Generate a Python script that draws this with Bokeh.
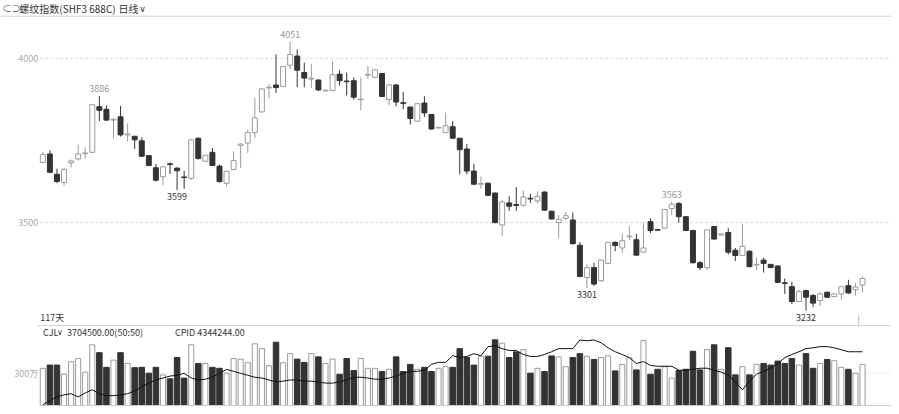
from bokeh.plotting import figure
from bokeh.models import Range1d, Label
from bokeh.embed import file_html
from bokeh.resources import INLINE

# ---------------- data ----------------
opens = [3683, 3709, 3647, 3622, 3682, 3694, 3710, 3714, 3853, 3845,
         3812, 3822, 3767, 3763, 3749, 3704, 3667, 3640, 3679, 3666,
         3639, 3635, 3757, 3687, 3714, 3672, 3620, 3662, 3735, 3742,
         3774, 3837, 3910, 3919, 3914, 3979, 4007, 3957, 3937, 3934,
         3901, 3902, 3952, 3931, 3932, 3874, 3949, 3942, 3954, 3875,
         3919, 3865, 3852, 3809, 3864, 3829, 3788, 3774, 3792, 3757,
         3724, 3657, 3617, 3620, 3590, 3493, 3560, 3555, 3553, 3574,
         3566, 3593, 3535, 3500, 3513, 3508, 3431, 3333, 3363, 3323,
         3376, 3440, 3423, 3457, 3448, 3410, 3503, 3479, 3483, 3543,
         3558, 3518, 3476, 3378, 3363, 3488, 3462, 3470, 3416, 3400,
         3413, 3371, 3386, 3373, 3368, 3317, 3305, 3260, 3293, 3278,
         3263, 3288, 3275, 3283, 3308, 3296, 3310]
highs = [3715, 3720, 3664, 3667, 3692, 3737, 3729, 3859, 3885, 3857,
         3819, 3855, 3802, 3763, 3759, 3704, 3679, 3672, 3683, 3668,
         3658, 3755, 3759, 3706, 3727, 3677, 3658, 3717, 3742, 3782,
         3879, 3908, 3922, 4012, 3976, 4051, 4027, 3987, 3983, 3936,
         3904, 3990, 3964, 3957, 3942, 3942, 3977, 3966, 3955, 3922,
         3922, 3897, 3852, 3864, 3885, 3829, 3791, 3835, 3809, 3757,
         3739, 3679, 3640, 3622, 3592, 3568, 3580, 3608, 3598, 3588,
         3595, 3595, 3536, 3523, 3533, 3531, 3441, 3373, 3378, 3388,
         3442, 3443, 3466, 3490, 3466, 3500, 3513, 3480, 3541, 3563,
         3563, 3520, 3478, 3383, 3480, 3490, 3468, 3483, 3423, 3496,
         3415, 3393, 3393, 3373, 3370, 3330, 3320, 3296, 3296, 3283,
         3288, 3290, 3285, 3308, 3326, 3316, 3336]
lows = [3680, 3652, 3620, 3612, 3668, 3689, 3695, 3712, 3809, 3810,
        3757, 3762, 3747, 3724, 3700, 3672, 3625, 3613, 3648, 3599,
        3603, 3630, 3692, 3686, 3672, 3622, 3610, 3659, 3667, 3712,
        3757, 3835, 3877, 3895, 3913, 3967, 3913, 3912, 3910, 3900,
        3899, 3900, 3917, 3887, 3874, 3842, 3937, 3940, 3882, 3857,
        3854, 3845, 3799, 3807, 3822, 3783, 3787, 3773, 3755, 3647,
        3647, 3615, 3604, 3581, 3498, 3460, 3536, 3536, 3548, 3560,
        3558, 3536, 3510, 3453, 3508, 3433, 3334, 3301, 3308, 3320,
        3374, 3413, 3408, 3446, 3400, 3408, 3468, 3476, 3482, 3523,
        3500, 3474, 3375, 3355, 3356, 3448, 3460, 3403, 3383, 3398,
        3364, 3355, 3348, 3362, 3316, 3283, 3252, 3258, 3232, 3243,
        3246, 3271, 3273, 3266, 3283, 3278, 3288]
closes = [3707, 3653, 3625, 3662, 3688, 3709, 3712, 3859, 3842, 3812,
          3814, 3767, 3770, 3752, 3702, 3674, 3629, 3670, 3677, 3658,
          3637, 3752, 3695, 3705, 3674, 3625, 3656, 3689, 3739, 3774,
          3819, 3907, 3912, 3911, 3975, 4012, 3964, 3940, 3940, 3904,
          3903, 3950, 3932, 3929, 3882, 3876, 3951, 3965, 3884, 3919,
          3867, 3863, 3817, 3862, 3834, 3785, 3790, 3795, 3757, 3722,
          3657, 3617, 3619, 3583, 3500, 3563, 3550, 3552, 3578, 3572,
          3580, 3538, 3511, 3510, 3521, 3436, 3336, 3363, 3313, 3386,
          3440, 3430, 3445, 3459, 3401, 3423, 3476, 3477, 3540, 3556,
          3518, 3476, 3378, 3363, 3478, 3450, 3466, 3410, 3400, 3428,
          3366, 3373, 3376, 3363, 3318, 3315, 3260, 3290, 3273, 3255,
          3283, 3273, 3283, 3305, 3286, 3304, 3330]
# volume, unit: 万
volumes = [345, 375, 375, 290, 406, 436, 309, 563, 490, 354,
           421, 490, 390, 351, 354, 300, 354, 284, 248, 445,
           254, 563, 390, 390, 354, 345, 300, 436, 430, 397,
           572, 527, 369, 587, 397, 481, 430, 400, 481, 451,
           390, 430, 290, 436, 324, 436, 345, 345, 315, 336,
           451, 315, 381, 336, 354, 315, 345, 360, 354, 527,
           445, 375, 457, 457, 609, 578, 445, 497, 518, 300,
           345, 315, 460, 451, 360, 445, 481, 457, 427, 445,
           460, 321, 381, 442, 330, 603, 290, 336, 360, 254,
           324, 336, 503, 330, 518, 563, 336, 536, 284, 360,
           284, 381, 390, 375, 412, 390, 436, 375, 481, 345,
           390, 427, 415, 354, 336, 300, 381]
# open interest (CPID), unit: 万
cpid = [299, 309, 319, 324, 327, 319, 329, 337, 327, 322,
        322, 324, 327, 334, 344, 354, 362, 367, 372, 374,
        379, 367, 362, 364, 369, 379, 389, 384, 379, 374,
        369, 367, 362, 357, 359, 362, 362, 359, 359, 357,
        354, 354, 357, 362, 369, 369, 367, 364, 364, 367,
        372, 379, 384, 384, 387, 402, 407, 407, 424, 419,
        422, 429, 424, 447, 449, 442, 437, 437, 427, 422,
        422, 427, 434, 442, 442, 442, 464, 462, 464, 457,
        444, 434, 427, 419, 404, 409, 399, 397, 397, 397,
        387, 387, 389, 392, 392, 387, 382, 374, 357, 337,
        359, 377, 384, 392, 404, 419, 427, 434, 442, 444,
        447, 447, 444, 439, 434, 434, 434]

price_ticks = [4000, 3500]
price_tick_labels = ["4000", "3500"]
vol_ticks = [300]
vol_tick_labels = ["300万"]
high_marks = [(35, "4051"), (8, "3886"), (89, "3563")]
low_marks = [(19, "3599"), (77, "3301"), (108, "3232")]

title_text = "螺纹指数(SHF3 688C)"
period_text = "日线"
days_text = "117天"
cjl_name = "CJL"
cjl_text = "3704500.00(50:50)"
cpid_text = "CPID 4344244.00"

# ---------------- geometry helpers (reference pixel -> data) ----------------
W, H = 891, 406
n = len(opens)
idx = list(range(n))


def dx(xr):
    return (xr - 42.7) / 7.13


def py(yr):
    return 4000 - (yr - 59) * 2.985


X0 = dx(0)
X1 = dx(899)

UP = "#9a9a9a"
DOWN = "#333333"
FONT = "Noto Sans CJK SC"

p = figure(width=W, height=H, x_range=Range1d(X0, X1),
           y_range=Range1d(py(414), py(0)),
           output_backend="svg", toolbar_location=None, min_border=0,
           x_axis_location=None, y_axis_location=None,
           outline_line_color=None, background_fill_color="white",
           border_fill_color="white")
p.grid.visible = False
p.xgrid.visible = False
p.ygrid.visible = False
p.extra_y_ranges = {
    "vol": Range1d((413 - 414) * 300 / 33, (413 - 0) * 300 / 33),
    "oi": Range1d(434.4 - 56 * 2.5, 434.4 + 358 * 2.5),
}

# header
p.segment(x0=[X0], x1=[X1], y0=[py(16)], y1=[py(16)], line_color="#d0d0d0", line_width=1)
p.add_layout(Label(x=dx(2), y=py(8.5), text="⊂⊃", text_font=FONT, text_font_size="9px",
                   text_color="#555555", text_baseline="middle"))
p.add_layout(Label(x=dx(19), y=py(8.5), text=title_text, text_font=FONT, text_font_size="10px",
                   text_color="#333333", text_baseline="middle"))
p.add_layout(Label(x=dx(119), y=py(8.5), text=period_text, text_font=FONT, text_font_size="10px",
                   text_color="#333333", text_baseline="middle"))
p.add_layout(Label(x=dx(140), y=py(8.5), text="∨", text_font="DejaVu Sans", text_font_size="9px",
                   text_color="#333333", text_baseline="middle"))

# price grid + labels
for t, lab in zip(price_ticks, price_tick_labels):
    p.segment(x0=[dx(40)], x1=[X1], y0=[t], y1=[t], line_color="#dcdcdc",
              line_width=1, line_dash="3 2")
    p.add_layout(Label(x=dx(38), y=t, text=lab, text_font=FONT, text_font_size="9px",
                       text_color="#aaaaaa", text_align="right", text_baseline="middle"))

# candles
up_i = [i for i in idx if closes[i] >= opens[i]]
dn_i = [i for i in idx if closes[i] < opens[i]]

p.segment(x0=up_i, x1=up_i, y0=[lows[i] for i in up_i], y1=[highs[i] for i in up_i],
          line_color=UP, line_width=1)
p.segment(x0=dn_i, x1=dn_i, y0=[lows[i] for i in dn_i], y1=[highs[i] for i in dn_i],
          line_color=DOWN, line_width=1)
p.vbar(x=up_i, width=0.7, bottom=[opens[i] for i in up_i],
       top=[max(closes[i], opens[i] + 1.5) for i in up_i],
       fill_color="white", line_color=UP, line_width=1)
p.vbar(x=dn_i, width=0.7, bottom=[closes[i] for i in dn_i],
       top=[max(opens[i], closes[i] + 1.5) for i in dn_i],
       fill_color=DOWN, line_color=DOWN, line_width=1)

# high / low marks
for i, lab in high_marks:
    p.add_layout(Label(x=i, y=highs[i], y_offset=4, text=lab, text_font=FONT,
                       text_font_size="9px", text_color="#999999", text_align="center",
                       text_baseline="bottom"))
for i, lab in low_marks:
    p.add_layout(Label(x=i, y=lows[i], y_offset=-3, text=lab, text_font=FONT,
                       text_font_size="9px", text_color="#333333", text_align="center",
                       text_baseline="top"))

# footer of price panel
p.add_layout(Label(x=dx(40), y=py(323), text=days_text, text_font=FONT, text_font_size="9px",
                   text_color="#333333", text_baseline="middle"))
p.segment(x0=[dx(866)], x1=[dx(866)], y0=[py(321)], y1=[py(332)], line_color="#bbbbbb", line_width=1)
p.segment(x0=[dx(38)], x1=[X1], y0=[py(331.5)], y1=[py(331.5)], line_color="#d0d0d0", line_width=1)

# volume panel header
p.add_layout(Label(x=dx(43), y=py(338.5), text=cjl_name, text_font=FONT, text_font_size="9px",
                   text_color="#333333", text_baseline="middle"))
p.add_layout(Label(x=dx(57), y=py(338.5), text="∨", text_font="DejaVu Sans", text_font_size="8px",
                   text_color="#333333", text_baseline="middle"))
p.add_layout(Label(x=dx(67), y=py(338.5), text=cjl_text, text_font=FONT, text_font_size="9px",
                   text_color="#333333", text_baseline="middle"))
p.add_layout(Label(x=dx(176), y=py(338.5), text=cpid_text, text_font=FONT, text_font_size="9px",
                   text_color="#333333", text_baseline="middle"))

# volume grid + label
for t, lab in zip(vol_ticks, vol_tick_labels):
    p.segment(x0=[dx(40)], x1=[X1], y0=[t], y1=[t], line_color="#eeeeee",
              line_width=1, y_range_name="vol")
    p.add_layout(Label(x=dx(38), y=t, y_range_name="vol", text=lab, text_font=FONT,
                       text_font_size="9px", text_color="#aaaaaa", text_align="right",
                       text_baseline="middle"))

# volume bars
p.vbar(x=up_i, width=0.72, bottom=0, top=[volumes[i] for i in up_i],
       fill_color="white", line_color=UP, line_width=1, y_range_name="vol")
p.vbar(x=dn_i, width=0.78, bottom=0, top=[volumes[i] for i in dn_i],
       fill_color=DOWN, line_color=DOWN, line_width=1, y_range_name="vol")
p.segment(x0=[dx(40)], x1=[X1], y0=[0], y1=[0], line_color="#cccccc", line_width=1,
          y_range_name="vol")

# CPID line
p.line(x=idx, y=cpid, line_color="#111111", line_width=1, y_range_name="oi")

open("out.html", "w").write(file_html(p, INLINE))
